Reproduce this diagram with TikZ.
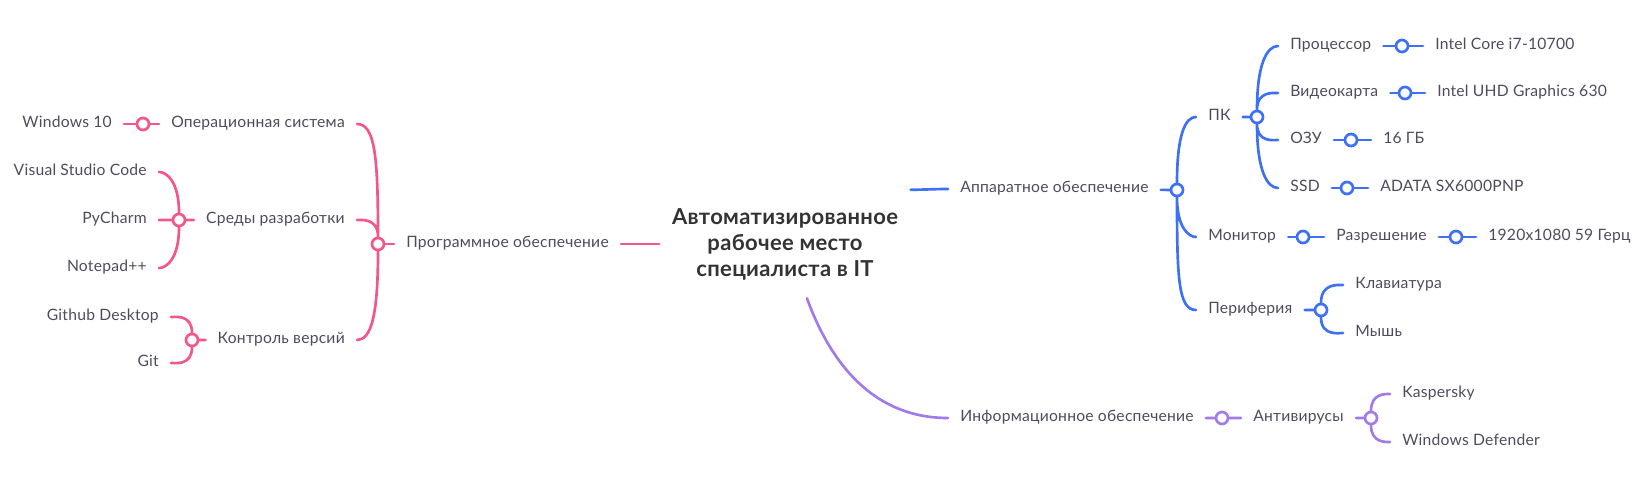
\documentclass[tikz,border=0pt]{standalone}
\usepackage{fontspec}
\setmainfont{Lato}[LetterSpace=1.5]
\definecolor{pinkc}{HTML}{F2568C}
\definecolor{bluec}{HTML}{3D70F5}
\definecolor{purplec}{HTML}{A27BEA}
\definecolor{txt}{HTML}{4F4B5E}
\definecolor{ttl}{HTML}{333333}
\begin{document}
\begin{tikzpicture}[x=0.75pt,y=0.75pt,
  lbl/.style={text=txt,font=\fontsize{11.75}{13}\selectfont,inner xsep=9pt,inner ysep=0pt,text height=8.3pt,text depth=2.6pt},
  lft/.style={lbl,anchor=east},
  rgt/.style={lbl,anchor=west},
  junc/.style={circle,draw=#1,fill=white,line width=2pt,minimum size=9pt,inner sep=0pt},
  br/.style={draw=#1,line width=2pt,line cap=round},
  up/.style={out=90,in=#1,out looseness=1.8,in looseness=0.4},
  dn/.style={out=-90,in=#1,out looseness=1.8,in looseness=0.4}]
  \useasboundingbox (0,0) rectangle (1644,-477);
  \node[text=ttl,font=\bfseries\fontsize{16.5}{19.5}\selectfont,align=center,
    minimum width=188.25pt,minimum height=81pt,inner sep=0pt] (root) at (785,-244)
    {Автоматизированное\\рабочее место\\специалиста в IT};

  \node[lft] (prog) at (621,-244) {Программное обеспечение};
  \node[junc=pinkc] (jprog) at (378,-244) {};
  \node[lft] (os) at (357,-124) {Операционная система};
  \node[lft] (ide) at (357,-220) {Среды разработки};
  \node[lft] (vcs) at (357,-340) {Контроль версий};
  \node[junc=pinkc] (jos) at (143,-124) {};
  \node[lft] (win) at (124,-124) {Windows 10};
  \node[junc=pinkc] (jide) at (179,-220) {};
  \node[lft] (vsc) at (159,-172) {Visual Studio Code};
  \node[lft] (pyc) at (159,-220) {PyCharm};
  \node[lft] (npp) at (159,-268) {Notepad++};
  \node[junc=pinkc] (jvcs) at (192,-340) {};
  \node[lft] (ghd) at (171,-317) {Github Desktop};
  \node[lft] (git) at (171,-363) {Git};

  \node[rgt] (hw) at (948,-189) {Аппаратное обеспечение};
  \node[junc=bluec] (jhw) at (1177,-190) {};
  \node[rgt] (pc) at (1196,-117) {ПК};
  \node[rgt] (mon) at (1196,-237) {Монитор};
  \node[rgt] (per) at (1196,-310) {Периферия};
  \node[junc=bluec] (jpc) at (1257,-117) {};
  \node[rgt] (cpu) at (1278,-46) {Процессор};
  \node[rgt] (gpu) at (1278,-93) {Видеокарта};
  \node[rgt] (ram) at (1278,-140) {ОЗУ};
  \node[rgt] (ssd) at (1278,-188) {SSD};
  \node[junc=bluec] (jcpu) at (1402,-46) {};
  \node[rgt] (cpuv) at (1423,-46) {Intel Core i7-10700};
  \node[junc=bluec] (jgpu) at (1405,-93) {};
  \node[rgt] (gpuv) at (1425,-93) {Intel UHD Graphics 630};
  \node[junc=bluec] (jram) at (1351,-140) {};
  \node[rgt] (ramv) at (1371,-140) {16 ГБ};
  \node[junc=bluec] (jssd) at (1347,-188) {};
  \node[rgt] (ssdv) at (1368,-188) {ADATA SX6000PNP};
  \node[junc=bluec] (jmon) at (1303,-237) {};
  \node[rgt] (res) at (1324,-237) {Разрешение};
  \node[junc=bluec] (jres) at (1456,-237) {};
  \node[rgt] (resv) at (1476,-237) {1920x1080 59 Герц};
  \node[junc=bluec] (jper) at (1321,-310) {};
  \node[rgt] (kb) at (1343,-285) {Клавиатура};
  \node[rgt] (ms) at (1343,-333) {Мышь};

  \node[rgt] (info) at (948,-418) {Информационное обеспечение};
  \node[junc=purplec] (jinfo) at (1222,-418) {};
  \node[rgt] (av) at (1241,-418) {Антивирусы};
  \node[junc=purplec] (jav) at (1371,-418) {};
  \node[rgt] (kas) at (1390,-394) {Kaspersky};
  \node[rgt] (def) at (1390,-442) {Windows Defender};

  \draw[br=pinkc] (root.west) -- (prog) -- (jprog);
  \draw[br=pinkc] (jprog) to[up=0] (os) (jprog) to[up=0] (ide) (jprog) to[dn=0] (vcs);
  \draw[br=pinkc] (os) -- (jos) -- (win);
  \draw[br=pinkc] (ide) -- (jide) -- (pyc) (jide) to[up=0] (vsc) (jide) to[dn=0] (npp);
  \draw[br=pinkc] (vcs) -- (jvcs) (jvcs) to[up=0] (ghd) (jvcs) to[dn=0] (git);

  \draw[br=bluec] (root.north east) to[out=0,in=180] (hw);
  \draw[br=bluec] (hw) -- (jhw) (jhw) to[up=180] (pc) (jhw) to[dn=180] (mon) (jhw) to[dn=180] (per);
  \draw[br=bluec] (pc) -- (jpc) (jpc) to[up=180] (cpu) (jpc) to[up=180] (gpu)
    (jpc) to[dn=180] (ram) (jpc) to[dn=180] (ssd);
  \draw[br=bluec] (cpu) -- (jcpu) -- (cpuv) (gpu) -- (jgpu) -- (gpuv)
    (ram) -- (jram) -- (ramv) (ssd) -- (jssd) -- (ssdv);
  \draw[br=bluec] (mon) -- (jmon) -- (res) -- (jres) -- (resv);
  \draw[br=bluec] (per) -- (jper) (jper) to[up=180] (kb) (jper) to[dn=180] (ms);

  \draw[br=purplec] (root.-68) to[out=-70,in=180] (info);
  \draw[br=purplec] (info) -- (jinfo) -- (av) -- (jav) (jav) to[up=180] (kas) (jav) to[dn=180] (def);
\end{tikzpicture}
\end{document}
